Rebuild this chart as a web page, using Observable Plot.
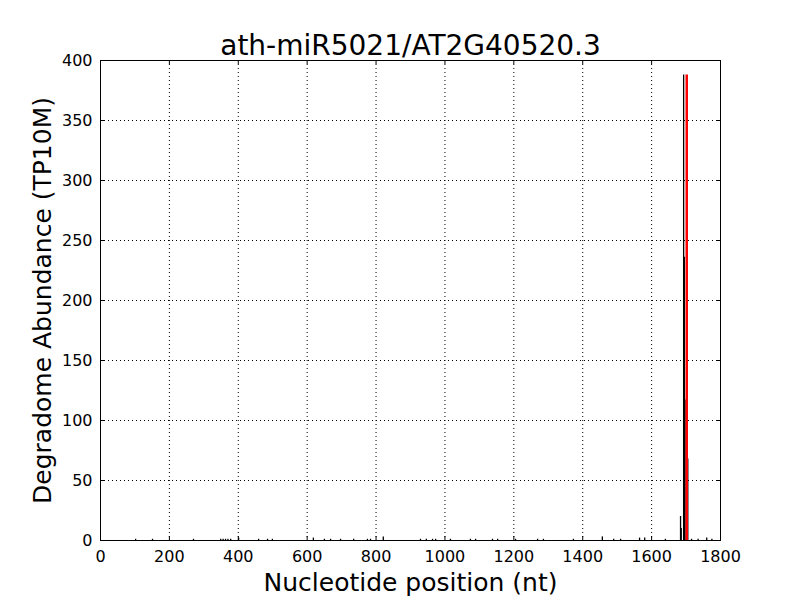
<!DOCTYPE html>
<html>
<head>
<meta charset="utf-8">
<script src="https://cdn.jsdelivr.net/npm/d3@7"></script>
<script src="https://cdn.jsdelivr.net/npm/@observablehq/plot@0.6"></script>
<style>
  html, body { margin: 0; padding: 0; background: #fff; }
  svg { font-family: "DejaVu Sans", sans-serif; }
</style>
</head>
<body>
<div id="chart"></div>
<script>
const title = "ath-miR5021/AT2G40520.3";
const xLabel = "Nucleotide position (nt)";
const yLabel = "Degradome Abundance (TP10M)";

// degradome read positions (nt) and abundances (TP10M)
const positions = [102, 151, 270, 349, 356, 363, 370, 378, 401, 459, 485, 499, 618, 650, 668, 697, 735, 775, 784, 821,
  929, 946, 964, 973, 1016, 1074, 1089, 1138, 1153, 1205, 1269, 1286, 1373, 1457, 1490, 1510, 1565, 1580, 1640,
  1684, 1686, 1693, 1695, 1697, 1705, 1716, 1735, 1760, 1775];
const abundances = [1, 1, 1, 1, 1, 1, 1, 1, 2, 1, 1, 1, 2, 1, 1, 1, 1, 1, 1, 3,
  1, 1, 1, 1, 1, 1, 1, 1, 1, 1, 1, 1, 1, 3, 1, 1, 2, 2, 1,
  20, 10, 388, 236, 117, 68, 1, 1, 2, 1];

const targetSite = [1702];
const targetHeight = [388];

const xTicks = [0, 200, 400, 600, 800, 1000, 1200, 1400, 1600, 1800];
const yTicks = [0, 50, 100, 150, 200, 250, 300, 350, 400];

const reads = positions.map((p, i) => ({pos: p, val: abundances[i]}));
const target = targetSite.map((p, i) => ({pos: p, val: targetHeight[i]}));

const W = 800, H = 600, mL = 100, mR = 80, mT = 60, mB = 60;
const fw = W - mL - mR, fh = H - mT - mB, tl = 4;

const chart = Plot.plot({
  width: W, height: H,
  marginLeft: mL, marginRight: mR, marginTop: mT, marginBottom: mB,
  style: {fontFamily: "DejaVu Sans, sans-serif", background: "#fff"},
  x: {domain: [0, 1800]},
  y: {domain: [0, 400]},
  marks: [
    Plot.gridX(xTicks, {stroke: "#000", strokeOpacity: 1, strokeWidth: 1, strokeDasharray: "1,3"}),
    Plot.gridY(yTicks, {stroke: "#000", strokeOpacity: 1, strokeWidth: 1, strokeDasharray: "1,3"}),
    Plot.ruleX(reads, {x: "pos", y1: 0, y2: "val", stroke: "#000", strokeWidth: 1.3}),
    Plot.ruleX(target, {x: "pos", y1: 0, y2: "val", stroke: "#ff0000", strokeWidth: 2.5}),
    // inward ticks on all sides
    Plot.ruleX(xTicks, {stroke: "#000", insetTop: fh - tl}),
    Plot.ruleX(xTicks, {stroke: "#000", insetBottom: fh - tl}),
    Plot.ruleY(yTicks, {stroke: "#000", insetRight: fw - tl}),
    Plot.ruleY(yTicks, {stroke: "#000", insetLeft: fw - tl}),
    Plot.frame({stroke: "#000", strokeWidth: 1}),
    Plot.axisX(xTicks, {tickSize: 0, tickPadding: 10, fontSize: 16, fill: "#000", label: null, tickFormat: d => String(d)}),
    Plot.axisY(yTicks, {tickSize: 0, tickPadding: 8, fontSize: 16, fill: "#000", label: null, tickFormat: d => String(d)}),
    Plot.text([title], {frameAnchor: "top", lineAnchor: "bottom", dy: -6, fontSize: 28, fill: "#000"}),
    Plot.text([xLabel], {frameAnchor: "bottom", lineAnchor: "bottom", dy: 50, fontSize: 25, fill: "#000"}),
    Plot.text([yLabel], {frameAnchor: "left", rotate: -90, dx: -58, lineAnchor: "middle", textAnchor: "middle", fontSize: 25, fill: "#000"})
  ]
});
document.getElementById("chart").appendChild(chart);
</script>
</body>
</html>
